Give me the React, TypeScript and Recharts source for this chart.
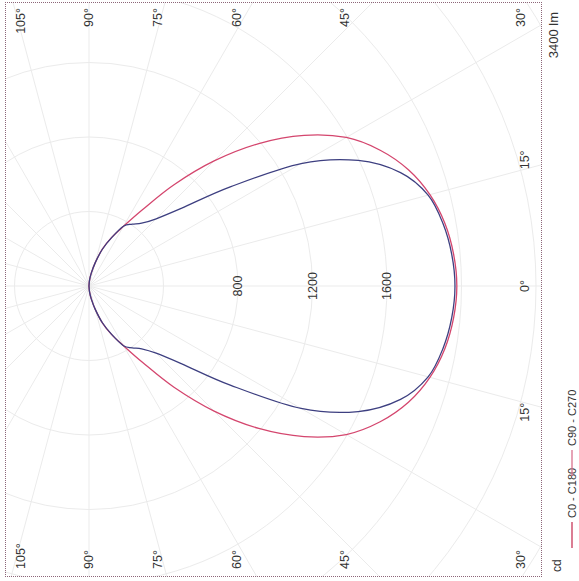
import { PolarAngleAxis, PolarGrid, PolarRadiusAxis, Radar, RadarChart } from "recharts";

// gamma angles (deg) of one half-plane, 0 = straight down the optical axis
const GAMMA = [
  0, 5, 10, 15, 20, 25, 30, 35, 40, 45, 50, 55, 60, 65, 70, 75, 80, 85, 90,
  95, 100, 105, 110, 115, 120, 125, 130, 135, 140, 145, 150, 155, 160, 165, 170, 175, 180,
];
// luminous intensity (cd)
const C0_C180 = [
  1975, 1965, 1940, 1895, 1825, 1725, 1595, 1410, 1190, 950, 710, 500, 370, 288, 212, 130, 70, 30, 0,
  0, 0, 0, 0, 0, 0, 0, 0, 0, 0, 0, 0, 0, 0, 0, 0, 0, 0,
];
const C90_C270 = [
  1965, 1955, 1930, 1885, 1780, 1595, 1315, 930, 650, 510, 440, 405, 370, 285, 210, 130, 70, 30, 0,
  0, 0, 0, 0, 0, 0, 0, 0, 0, 0, 0, 0, 0, 0, 0, 0, 0, 0,
];

const RADIUS_TICKS = [0, 400, 800, 1200, 1600, 2000, 2400, 2800];
const RADIUS_LABELS = [800, 1200, 1600];
const GRID_ANGLES = [0, 15, 30, 45, 60, 75, 90, 105, 120, 135, 150, 165, 180, 195, 210, 225, 240, 255, 270, 285, 300, 315, 330, 345];
const TOP_LABELS = [105, 90, 75, 60, 45, 30];
const RIGHT_LABELS = [15, 0, -15];
const BOTTOM_LABELS = [-30, -45, -60, -75, -90, -105];
const FLUX = "3400 lm";
const UNIT = "cd";

const SERIES = [
  { key: "c0", name: "C0 - C180", stroke: "#d4466e", swatch: "#c8385a" },
  { key: "c90", name: "C90 - C270", stroke: "#3d3f80", swatch: "#d9728e" },
];

// geometry (px)
const PX_PER_CD = 0.18625;
const FRAME = { left: 5, top: 2, width: 537, height: 575 };
const CX = 84;
const CY = 284;
const OUTER_R = RADIUS_TICKS[RADIUS_TICKS.length - 1] * PX_PER_CD;
const LABEL_DY = 256; // rows of angle labels sit on this offset from the centre
const LABEL_X_MAX = 516;
const RIGHT_COL_X = 520;

const FONT = "'Liberation Sans', Arial, sans-serif";
const INK = "#333";

// full 0..355 sweep, the C180 / C270 half mirrors the measured half
const rows = Array.from({ length: 72 }, (_, i) => {
  const angle = i * 5;
  const k = GAMMA.indexOf(angle <= 180 ? angle : 360 - angle);
  return { angle, c0: C0_C180[k], c90: C90_C270[k] };
});

const rad = (d: number) => (d * Math.PI) / 180;

function RotText({ x, y, anchor, size = 11, children }: { x: number; y: number; anchor: "start" | "middle" | "end"; size?: number; children: React.ReactNode }) {
  return (
    <text
      x={x}
      y={y}
      dy="0.35em"
      textAnchor={anchor}
      transform={`rotate(-90 ${x} ${y})`}
      fontFamily={FONT}
      fontSize={size}
      fill={INK}
    >
      {children}
    </text>
  );
}

function AngleLabels() {
  return (
    <g>
      {TOP_LABELS.map((a) => {
        const x = Math.min(CX + (LABEL_DY * Math.cos(rad(a))) / Math.sin(rad(a)), LABEL_X_MAX);
        return <RotText key={"t" + a} x={x} y={6} anchor="end" size={12.5}>{`${Math.abs(a)}°`}</RotText>;
      })}
      {RIGHT_LABELS.map((a) => {
        const y = CY - (RIGHT_COL_X - CX) * Math.tan(rad(a)) * 1.08;
        return <RotText key={"r" + a} x={RIGHT_COL_X} y={y} anchor="middle" size={12.5}>{`${Math.abs(a)}°`}</RotText>;
      })}
      {BOTTOM_LABELS.map((a) => {
        const x = Math.min(CX + (LABEL_DY * Math.cos(rad(a))) / Math.abs(Math.sin(rad(a))), LABEL_X_MAX);
        return <RotText key={"b" + a} x={x} y={FRAME.height - 8} anchor="start" size={12.5}>{`${Math.abs(a)}°`}</RotText>;
      })}
    </g>
  );
}

function RadiusTick(props: any) {
  const { x, y, payload } = props;
  if (!RADIUS_LABELS.includes(payload.value)) return <g />;
  return <RotText x={x} y={y} anchor="middle" size={12.5}>{payload.value}</RotText>;
}

// closed Catmull-Rom curve through the radar's own points (the photometric curve is smooth)
function SmoothCurve(props: any) {
  const { points, stroke, strokeWidth } = props;
  if (!points || points.length < 3) return <g />;
  const n = points.length;
  let d = `M${points[0].x},${points[0].y}`;
  for (let i = 0; i < n; i++) {
    const p0 = points[(i - 1 + n) % n];
    const p1 = points[i];
    const p2 = points[(i + 1) % n];
    const p3 = points[(i + 2) % n];
    const c1x = p1.x + (p2.x - p0.x) / 6;
    const c1y = p1.y + (p2.y - p0.y) / 6;
    const c2x = p2.x - (p3.x - p1.x) / 6;
    const c2y = p2.y - (p3.y - p1.y) / 6;
    d += ` C${c1x},${c1y} ${c2x},${c2y} ${p2.x},${p2.y}`;
  }
  return <path d={d + "Z"} fill="none" stroke={stroke} strokeWidth={strokeWidth} strokeLinejoin="round" />;
}

export default function App() {
  return (
    <div style={{ position: "absolute", left: 0, top: 0, width: 579, height: 581, background: "#fff" }}>
      <div
        style={{
          position: "absolute",
          left: FRAME.left,
          top: FRAME.top,
          width: FRAME.width,
          height: FRAME.height,
          overflow: "hidden",
        }}
      >
        <RadarChart
          width={FRAME.width}
          height={FRAME.height}
          data={rows}
          cx={CX}
          cy={CY}
          innerRadius={0}
          outerRadius={OUTER_R}
          startAngle={0}
          endAngle={360}
          margin={{ top: 0, right: 0, bottom: 0, left: 0 }}
        >
          <PolarGrid gridType="circle" polarAngles={GRID_ANGLES} stroke="#ebebeb" strokeWidth={1} />
          <PolarAngleAxis dataKey="angle" type="number" domain={[0, 360]} tick={false} tickLine={false} axisLine={false} />
          <PolarRadiusAxis
            angle={0}
            domain={[0, RADIUS_TICKS[RADIUS_TICKS.length - 1]]}
            ticks={RADIUS_TICKS}
            tickCount={RADIUS_TICKS.length}
            axisLine={false}
            tickLine={false}
            tick={RadiusTick}
          />
          {SERIES.map((s) => (
            <Radar
              key={s.key}
              dataKey={s.key}
              name={s.name}
              stroke={s.stroke}
              strokeWidth={1.3}
              fill="none"
              fillOpacity={0}
              dot={false}
              shape={SmoothCurve}
              isAnimationActive={false}
            />
          ))}
          <AngleLabels />
        </RadarChart>
        <div
          style={{
            position: "absolute",
            inset: 0,
            border: "1px dotted #8d6679",
            boxSizing: "border-box",
            pointerEvents: "none",
          }}
        />
      </div>
      <svg width={579} height={581} style={{ position: "absolute", left: 0, top: 0, pointerEvents: "none" }}>
        <RotText x={553} y={12} anchor="end" size={13}>{FLUX}</RotText>
        <RotText x={557} y={572} anchor="start" size={12}>{UNIT}</RotText>
        {SERIES.map((s, i) => {
          const y0 = i === 0 ? 548 : 476;
          return (
            <g key={s.key}>
              <line x1={572} x2={572} y1={y0} y2={y0 - 26} stroke={s.swatch} strokeWidth={1.3} />
              <RotText x={572} y={y0 - 30} anchor="start">{s.name}</RotText>
            </g>
          );
        })}
      </svg>
    </div>
  );
}
